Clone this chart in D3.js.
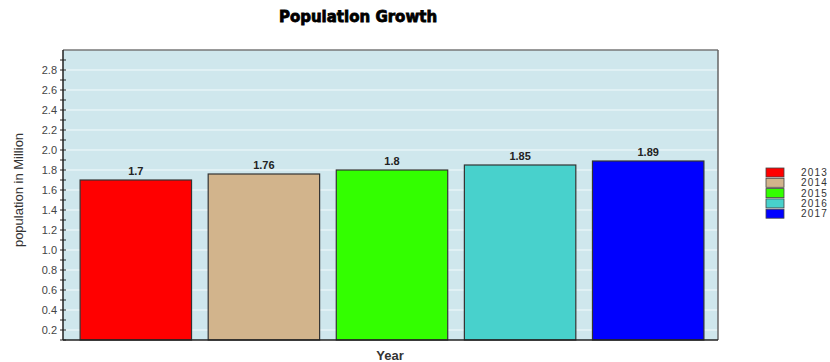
<!DOCTYPE html>
<html>
<head>
<meta charset="utf-8">
<script src="https://cdn.jsdelivr.net/npm/d3@7"></script>
<style>
  body { margin: 0; background: #fff; }
  svg { display: block; font-family: "Liberation Sans", Arial, sans-serif; }
</style>
</head>
<body>
<div id="chart"></div>
<script>
const years = ["2013", "2014", "2015", "2016", "2017"];
const population = [1.7, 1.76, 1.8, 1.85, 1.89];
const colors = ["#ff0000", "#d2b48c", "#33ff00", "#48d1cc", "#0000ff"];
const yTicks = [0.2, 0.4, 0.6, 0.8, 1.0, 1.2, 1.4, 1.6, 1.8, 2.0, 2.2, 2.4, 2.6, 2.8];

const W = 830, H = 362;
const plot = { left: 63, top: 50, right: 718, bottom: 340 };

const svg = d3.select("#chart").append("svg")
  .attr("width", W)
  .attr("height", H);

const x = d3.scaleBand()
  .domain(years)
  .range([plot.left + 3, plot.right])
  .paddingInner(0.13)
  .paddingOuter(0.11);

const y = d3.scaleLinear()
  .domain([0.1, 3.0])
  .range([plot.bottom, plot.top]);

// plot background
svg.append("rect")
  .attr("x", plot.left)
  .attr("y", plot.top)
  .attr("width", plot.right - plot.left)
  .attr("height", plot.bottom - plot.top)
  .attr("fill", "#cfe7ed");

// grid lines
svg.append("g")
  .selectAll("line")
  .data(yTicks)
  .enter().append("line")
  .attr("x1", plot.left)
  .attr("x2", plot.right)
  .attr("y1", d => y(d))
  .attr("y2", d => y(d))
  .attr("stroke", "#f2fafc")
  .attr("stroke-width", 1);

// borders top/right
svg.append("line")
  .attr("x1", plot.left).attr("x2", plot.right)
  .attr("y1", plot.top).attr("y2", plot.top)
  .attr("stroke", "#777").attr("stroke-width", 1.5);
svg.append("line")
  .attr("x1", plot.right).attr("x2", plot.right)
  .attr("y1", plot.top).attr("y2", plot.bottom)
  .attr("stroke", "#666").attr("stroke-width", 1.5);

// bars
svg.append("g")
  .selectAll("rect")
  .data(population)
  .enter().append("rect")
  .attr("x", (d, i) => x(years[i]))
  .attr("y", d => y(d))
  .attr("width", x.bandwidth())
  .attr("height", d => y(0.1) - y(d))
  .attr("fill", (d, i) => colors[i])
  .attr("stroke", "#333")
  .attr("stroke-width", 1.2);

// value labels
svg.append("g")
  .selectAll("text")
  .data(population)
  .enter().append("text")
  .attr("x", (d, i) => x(years[i]) + x.bandwidth() / 2)
  .attr("y", d => y(d) - 5)
  .attr("text-anchor", "middle")
  .style("font-size", "11px")
  .style("font-weight", "bold")
  .style("fill", "#222")
  .text(d => d);

// y axis with minor ticks
const minorTicks = d3.range(1, 30).map(i => i / 10);
svg.append("g")
  .selectAll("line")
  .data(minorTicks)
  .enter().append("line")
  .attr("x1", plot.left - 3)
  .attr("x2", plot.left + 3)
  .attr("y1", d => y(d))
  .attr("y2", d => y(d))
  .attr("stroke", "#222");

svg.append("g")
  .selectAll("text")
  .data(yTicks)
  .enter().append("text")
  .attr("x", plot.left - 6)
  .attr("y", d => y(d))
  .attr("dy", "0.35em")
  .attr("text-anchor", "end")
  .style("font-size", "11px")
  .style("fill", "#444")
  .text(d => d3.format(".1f")(d));

svg.append("line")
  .attr("x1", plot.left).attr("x2", plot.left)
  .attr("y1", plot.top).attr("y2", plot.bottom)
  .attr("stroke", "#222").attr("stroke-width", 1.5);
svg.append("line")
  .attr("x1", plot.left).attr("x2", plot.right)
  .attr("y1", plot.bottom).attr("y2", plot.bottom)
  .attr("stroke", "#222").attr("stroke-width", 1.5);

// title
svg.append("text")
  .attr("x", 358)
  .attr("y", 22)
  .attr("text-anchor", "middle")
  .style("font-family", "'DejaVu Sans', sans-serif")
  .style("font-size", "15px")
  .style("font-weight", "bold")
  .style("fill", "#000")
  .style("stroke", "#000")
  .style("stroke-width", 0.8)
  .text("Population Growth");

// axis titles
svg.append("text")
  .attr("transform", "rotate(-90)")
  .attr("x", -190)
  .attr("y", 23)
  .attr("text-anchor", "middle")
  .style("font-family", "'Liberation Sans Narrow', 'Liberation Sans', sans-serif")
  .style("font-size", "13px")
  .style("fill", "#333")
  .text("population in Million");

svg.append("text")
  .attr("x", 390)
  .attr("y", 360)
  .attr("text-anchor", "middle")
  .style("font-size", "13px")
  .style("font-weight", "bold")
  .style("fill", "#333")
  .text("Year");

// legend
const legend = svg.append("g")
  .selectAll("g")
  .data(years)
  .enter().append("g")
  .attr("transform", (d, i) => `translate(766,${168 + i * 10.3})`);

legend.append("rect")
  .attr("width", 18)
  .attr("height", 9)
  .attr("fill", (d, i) => colors[i])
  .attr("stroke", "#444")
  .attr("stroke-width", 0.8);

legend.append("text")
  .attr("x", 35)
  .attr("y", 8)
  .style("font-size", "10px")
  .style("letter-spacing", "1.2px")
  .style("fill", "#333")
  .text(d => d);
</script>
</body>
</html>
